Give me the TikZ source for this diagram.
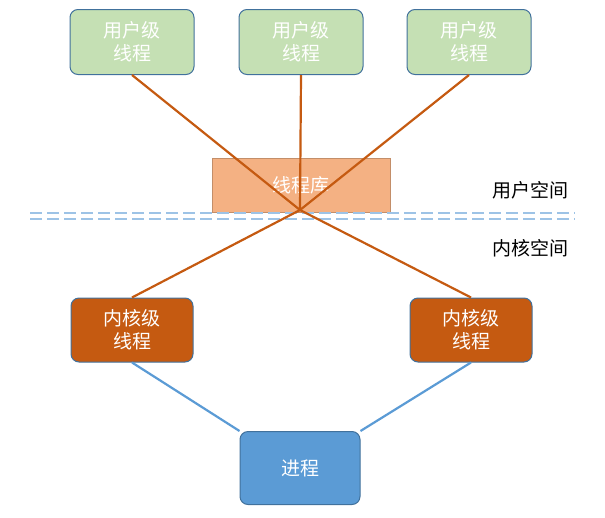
\documentclass[tikz,border=0pt]{standalone}
\usepackage{fontspec}
\setmainfont{Noto Sans CJK SC}
\definecolor{gfill}{HTML}{C5E0B4}
\definecolor{bdr}{HTML}{41719C}
\definecolor{lib}{HTML}{F4B183}
\definecolor{kern}{HTML}{C55A11}
\definecolor{proc}{HTML}{5B9BD5}
\definecolor{dashcol}{HTML}{9DC3E6}
\begin{document}
\begin{tikzpicture}[x=1pt,y=-1pt,
  box/.style={rounded corners=8pt,draw=bdr,line width=1pt,font=\fontsize{19}{23}\selectfont,align=center,inner sep=0pt},
  user/.style={box,fill=gfill,text=white,minimum width=124pt,minimum height=65pt},
  kbox/.style={box,fill=kern,text=white,minimum width=122pt,minimum height=64pt},
  link/.style={kern,line width=2.2pt},
  blink/.style={proc,line width=2.2pt},
  sep/.style={dashcol,line width=1.5pt,dash pattern=on 12pt off 5pt}]
\useasboundingbox (0,0) rectangle (605,517);
\node[user] (u1) at (132,42) {用户级\\线程};
\node[user] (u2) at (301,42) {用户级\\线程};
\node[user] (u3) at (469,42) {用户级\\线程};
\node[draw=lib!80!black,fill=lib,text=white,minimum width=178pt,minimum height=54pt,font=\fontsize{19}{23}\selectfont] (lib) at (301,185) {线程库};
\coordinate (d1) at (30,213); \coordinate (d2) at (575,213);
\coordinate (d3) at (30,219); \coordinate (d4) at (575,219);
\draw[sep] (d1) -- (d2);
\draw[sep] (d3) -- (d4);
\node[font=\fontsize{19}{23}\selectfont] (us) at (530,190) {用户空间};
\node[font=\fontsize{19}{23}\selectfont] (ks) at (530,248) {内核空间};
\node[kbox] (k1) at (132,330) {内核级\\线程};
\node[kbox] (k2) at (471,330) {内核级\\线程};
\node[box,fill=proc,text=white,minimum width=120pt,minimum height=73pt] (p) at (300,468) {进程};
\coordinate (c) at (300,210);
\draw[link] (u1.south) -- (c) -- (k2.north);
\draw[link] (u3.south) -- (c) -- (k1.north);
\draw[link] (u2.south) -- (c);
\draw[blink] (k1.south) -- (p.north west);
\draw[blink] (k2.south) -- (p.north east);
\end{tikzpicture}
\end{document}
